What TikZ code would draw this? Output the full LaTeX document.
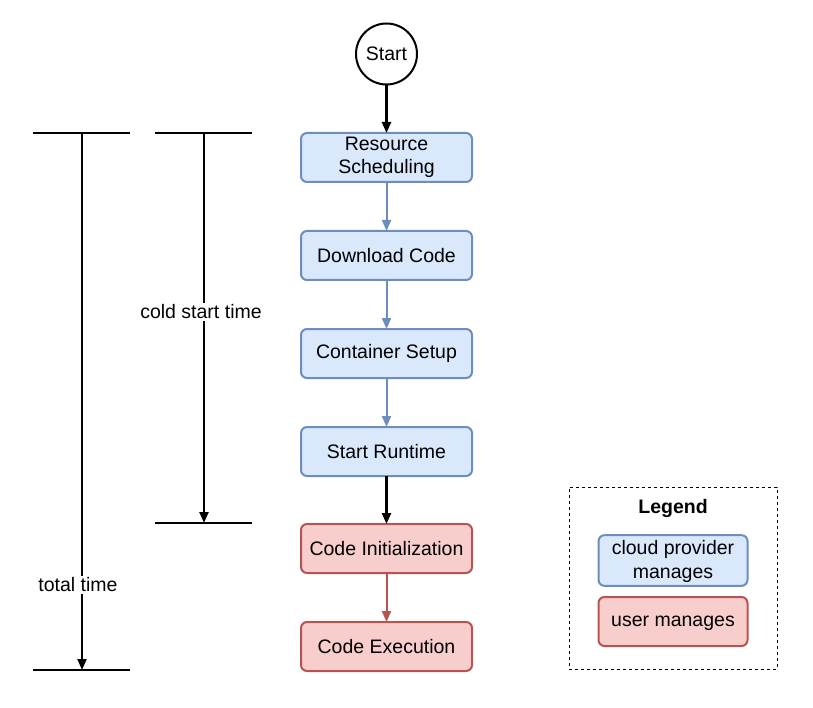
\documentclass[tikz,border=0pt]{standalone}
\usepackage{fontspec}
\setmainfont{Liberation Sans}
\usetikzlibrary{positioning,arrows.meta}

\definecolor{cloudfill}{HTML}{DAE8FC}
\definecolor{cloudline}{HTML}{6C8EBF}
\definecolor{userfill}{HTML}{F8CECC}
\definecolor{userline}{HTML}{B85450}

\begin{document}
\begin{tikzpicture}[x=1pt, y=-1pt,
		every node/.style = {font=\fontsize{19.5}{23.5}\selectfont, align=center, outer sep=0pt},
		cloud/.style = {shape=rectangle, rounded corners=6pt, draw=cloudline,
			fill=cloudfill, line width=2pt, minimum width=171pt, minimum height=49pt},
		user/.style = {shape=rectangle, rounded corners=6pt, draw=userline,
			fill=userfill, line width=2pt, minimum width=171pt, minimum height=49pt},
		flow/.style = {line width=2pt, -{Triangle[length=11pt,width=9pt]}},
		bar/.style = {line width=2.4pt},
		span/.style = {line width=2.2pt, -{Triangle[length=11pt,width=9pt]}},
		spanlabel/.style = {fill=white, inner sep=2pt}]
	\useasboundingbox (0,0) rectangle (813,708);
	% main flow
	\node (start) [shape=circle, draw, line width=2pt, minimum size=61pt, inner sep=0pt] at (386.5,54) {Start};
	\node (sched) [cloud, below=48.5pt of start] {Resource\\Scheduling};
	\node (down) [cloud, below=49pt of sched] {Download Code};
	\node (setup) [cloud, below=49pt of down] {Container Setup};
	\node (runtime) [cloud, below=49pt of setup] {Start Runtime};
	\node (init) [user, below=48pt of runtime] {Code Initialization};
	\node (exec) [user, below=49pt of init] {Code Execution};
	\draw[flow, line width=2.4pt] (start) -- (sched);
	\draw[flow, cloudline] (sched) -- (down);
	\draw[flow, cloudline] (down) -- (setup);
	\draw[flow, cloudline] (setup) -- (runtime);
	\draw[flow, line width=2.4pt] (runtime) -- (init);
	\draw[flow, userline] (init) -- (exec);
	% time spans
	\coordinate (tt-top) at (82,133);
	\coordinate (tt-bot) at (82,670);
	\coordinate (cs-top) at (204,133);
	\coordinate (cs-bot) at (204,523);
	\draw[bar] ([xshift=-49pt]tt-top) -- ([xshift=48pt]tt-top);
	\draw[bar] ([xshift=-49pt]tt-bot) -- ([xshift=48pt]tt-bot);
	\draw[bar] ([xshift=-49pt]cs-top) -- ([xshift=48pt]cs-top);
	\draw[bar] ([xshift=-49pt]cs-bot) -- ([xshift=48pt]cs-bot);
	\draw[span] (tt-top) -- (tt-bot);
	\draw[span] (cs-top) -- (cs-bot);
	\node (total) [spanlabel] at (78,585) {total time};
	\node (cold) [spanlabel] at (201,312) {cold start time};
	% legend
	\node (legend) [draw, dashed, line width=1pt, minimum width=208pt, minimum height=182pt] at (673,578) {};
	\node (lgdtitle) at (673,508) {\bfseries Legend};
	\node (lgdcloud) [cloud, minimum width=149pt] at (673,560.5) {\strut cloud provider\\manages};
	\node (lgduser) [user, minimum width=149pt, text height=14pt, text depth=4pt] at (673,621.5) {user manages};
\end{tikzpicture}
\end{document}
